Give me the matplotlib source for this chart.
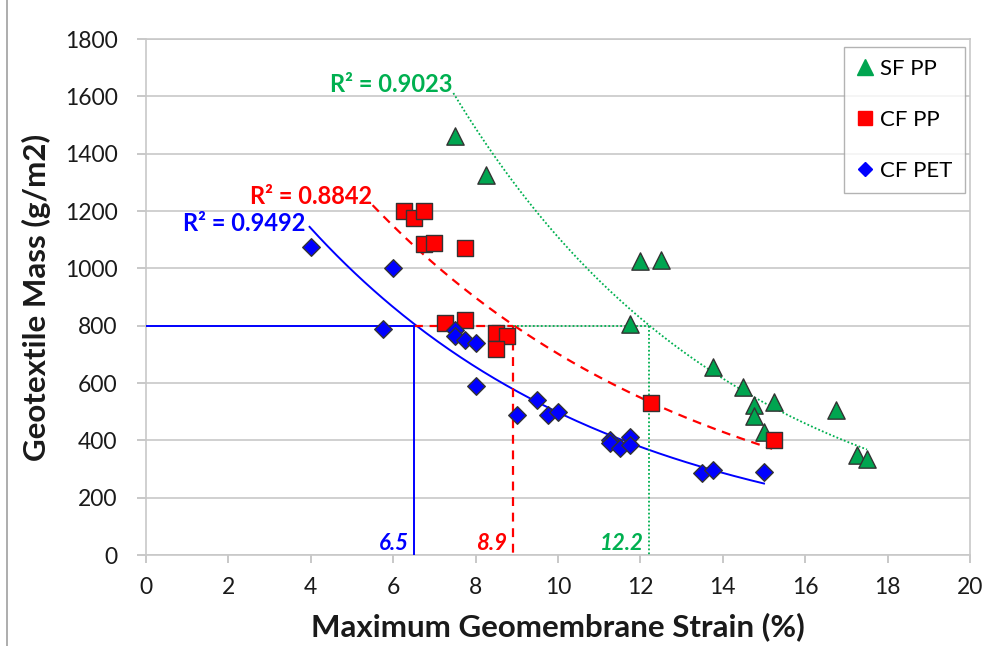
import numpy as np
import matplotlib
matplotlib.use("Agg")
import matplotlib.pyplot as plt
from matplotlib.lines import Line2D

plt.rcParams['font.family'] = ['Lato', 'DejaVu Sans']

# ---- data ----
sf_pp_x = [7.5, 8.25, 12.0, 12.5, 11.75, 13.75, 14.5, 14.75, 14.75, 15.0, 15.25, 16.75, 17.25, 17.5]
sf_pp_y = [1460, 1325, 1025, 1030, 805, 655, 585, 525, 485, 430, 535, 505, 350, 335]

cf_pp_x = [6.25, 6.5, 6.75, 6.75, 7.0, 7.75, 7.25, 7.75, 8.5, 8.75, 8.5, 12.25, 15.25]
cf_pp_y = [1200, 1175, 1200, 1085, 1090, 1070, 810, 820, 775, 765, 720, 530, 400]

cf_pet_x = [4.0, 6.0, 5.75, 7.5, 7.5, 7.75, 8.0, 8.0, 9.0, 9.5, 9.75, 10.0,
            11.25, 11.25, 11.5, 11.75, 11.75, 13.5, 13.75, 15.0]
cf_pet_y = [1075, 1000, 790, 785, 765, 750, 740, 590, 490, 540, 490, 500,
            400, 390, 375, 410, 385, 285, 295, 290]

series_names = ["SF PP", "CF PP", "CF PET"]
r2_labels = ["R² = 0.9023", "R² = 0.8842", "R² = 0.9492"]
trend_start = [7.46, 5.5, 3.97]
trend_end = [17.5, 15.2, 15.0]
target_mass = 800
strain_at_target = [12.2, 8.9, 6.5]
x_ticks = [0, 2, 4, 6, 8, 10, 12, 14, 16, 18, 20]
y_ticks = [0, 200, 400, 600, 800, 1000, 1200, 1400, 1600, 1800]

# ---- styles ----
green_fill = '#00A550'
green_line = '#00B050'
red = '#FF0000'
blue = '#0000FF'
text_col = '#1a1a1a'

fig = plt.figure(figsize=(9.82, 6.46), dpi=100)
ax = fig.add_axes([146 / 982, 1 - 555 / 646, (970 - 146) / 982, (555 - 39) / 646])

ax.set_xlim(0, 20)
ax.set_ylim(0, 1800)
ax.set_xticks(x_ticks)
ax.set_yticks(y_ticks)
ax.tick_params(axis='both', labelsize=16.5, colors='#BFBFBF', labelcolor=text_col,
               direction='out', width=1.2)
ax.tick_params(axis='x', length=6, pad=10)
ax.tick_params(axis='y', length=6.5, pad=14)
ax.grid(axis='y', color='#C8C8C8', lw=1.2, zorder=0)
for s in ax.spines.values():
    s.set_color('#C8C8C8')
    s.set_linewidth(1.2)

# trendlines (exponential fits, as in Excel)
series = [(sf_pp_x, sf_pp_y), (cf_pp_x, cf_pp_y), (cf_pet_x, cf_pet_y)]
trend_colors = [green_line, red, blue]
trend_styles = [(0, (1, 1.2)), (0, (4, 3)), '-']
trend_lw = [1.3, 1.6, 1.4]
for (xs, ys), x0, x1, c, ls, lw in zip(series, trend_start, trend_end, trend_colors,
                                       trend_styles, trend_lw):
    b, lna = np.polyfit(np.array(xs), np.log(np.array(ys)), 1)
    xx = np.linspace(x0, x1, 200)
    ax.plot(xx, np.exp(lna) * np.exp(b * xx), color=c, ls=ls, lw=lw, zorder=3)

# reference lines at 800 g/m2
prev = [8.9, 6.5, 0]
for xv, xp, c, ls, lw in zip(strain_at_target, prev, trend_colors, trend_styles, trend_lw):
    ax.plot([xp, xv], [target_mass, target_mass], color=c, ls=ls, lw=lw, zorder=3)
    ax.plot([xv, xv], [target_mass, 0], color=c, ls=ls, lw=lw, zorder=3)

# markers
ax.scatter(sf_pp_x, sf_pp_y, marker='^', s=155, facecolor=green_fill, edgecolor='#333333',
           linewidth=1.0, zorder=5)
ax.scatter(cf_pp_x, cf_pp_y, marker='s', s=120, facecolor=red, edgecolor='#333333',
           linewidth=1.0, zorder=5)
ax.scatter(cf_pet_x, cf_pet_y, marker='D', s=80, facecolor=blue, edgecolor='#333333',
           linewidth=1.0, zorder=5)

# R² labels
r2_pos = [(7.45, 1640), (5.49, 1252), (3.86, 1158)]
for (px, py), t, c in zip(r2_pos, r2_labels, trend_colors):
    ax.text(px, py, t, color=c, fontsize=17, fontweight='bold', ha='right', va='center',
            zorder=6)

# strain value labels
for xv, c in zip(strain_at_target, trend_colors):
    ax.text(xv - 0.13, 40, f"{xv}", color=c, fontsize=16, fontweight='bold',
            fontstyle='italic', ha='right', va='center', zorder=6)

ax.set_xlabel("Maximum Geomembrane Strain (%)", fontsize=22.5, fontweight='bold',
              color=text_col, labelpad=10)
ax.set_ylabel("Geotextile Mass (g/m2)", fontsize=22.5, fontweight='bold',
              color=text_col, labelpad=10)

handles = [
    Line2D([], [], marker='^', ls='none', color=green_fill, markersize=11),
    Line2D([], [], marker='s', ls='none', color=red, markersize=9.5),
    Line2D([], [], marker='D', ls='none', color=blue, markersize=7.5),
]
leg = ax.legend(handles, series_names, loc='upper right', fontsize=16, frameon=True,
                fancybox=False, edgecolor='#A0A0A0', borderpad=0.55, labelspacing=1.4,
                handlelength=0.8, handletextpad=0.3, borderaxespad=0,
                bbox_to_anchor=(0.994, 0.985))
leg.get_frame().set_linewidth(1.0)

# chart-area border (left)
fig.add_artist(Line2D([7 / 982, 7 / 982], [0, 1], transform=fig.transFigure,
                      color='#A0A0A0', lw=1.2))

fig.savefig("out.png", dpi=100)
